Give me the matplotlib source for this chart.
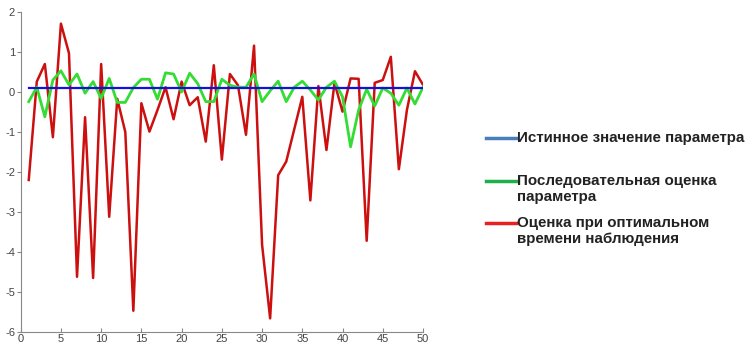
import numpy as np
import matplotlib
matplotlib.use('Agg')
import matplotlib.pyplot as plt
from matplotlib.lines import Line2D

plt.rcParams['axes.unicode_minus'] = False
plt.rcParams['font.family'] = ['Liberation Sans', 'DejaVu Sans']

# experiment number
n = np.arange(1, 51)

true_value = [0.1] * 50

seq_estimate = [-0.24, 0.12, -0.62, 0.3, 0.53, 0.18, 0.45, -0.03, 0.26, -0.16,
                0.34, -0.26, -0.26, 0.11, 0.32, 0.32, -0.18, 0.48, 0.45, 0.0,
                0.47, 0.21, -0.24, -0.24, 0.32, 0.17, 0.12, 0.12, 0.45, -0.24,
                0.03, 0.27, -0.24, 0.12, 0.27, 0.05, -0.2, 0.12, 0.27, -0.12,
                -1.37, -0.45, 0.07, -0.35, 0.1, -0.03, -0.33, 0.1, -0.3, 0.12]

opt_estimate = [-2.2, 0.26, 0.7, -1.13, 1.71, 0.97, -4.62, -0.63, -4.65, 0.7,
                -3.12, -0.17, -1.0, -5.47, -0.28, -0.99, -0.45, 0.12, -0.68, 0.26,
                -0.33, -0.13, -1.24, 0.67, -1.69, 0.45, 0.17, -1.07, 1.16, -3.82,
                -5.66, -2.08, -1.74, -0.93, -0.12, -2.71, 0.15, -1.45, 0.23, -0.49,
                0.34, 0.33, -3.72, 0.23, 0.3, 0.88, -1.93, -0.45, 0.52, 0.18]

legend_labels = [['Истинное значение параметра'],
                 ['Последовательная оценка', 'параметра'],
                 ['Оценка при оптимальном', 'времени наблюдения']]

fig = plt.figure(figsize=(7.5, 3.44), dpi=100)
ax = fig.add_axes([0.0276, 0.035, 0.5364, 0.930])

ax.plot(n, opt_estimate, color='#cc1010', lw=1.8)
ax.plot(n, seq_estimate, color='#33dd33', lw=2.0)
ax.plot(n, true_value, color='#1010e0', lw=1.6)

ax.set_xlim(0, 50)
ax.set_ylim(-6, 2)
ax.set_xticks(np.arange(0, 51, 5))
ax.set_yticks(np.arange(-6, 3, 1))
ax.spines['top'].set_visible(False)
ax.spines['right'].set_visible(False)
for s in ['left', 'bottom']:
    ax.spines[s].set_color('#888888')
ax.tick_params(length=3, width=0.8, color='#888888',
               labelsize=8, labelcolor='#444444', pad=1.5)
ax.tick_params(axis='x', direction='in')
ax.tick_params(axis='y', direction='out', pad=1)

# legend drawn at the right side of the figure (pixel positions)
leg_colors = ['#4a7ebb', '#1fb04a', '#e82020']
leg_y = [138, 181, 223]
for lines, c, y in zip(legend_labels, leg_colors, leg_y):
    yf = 1 - y / 344.0
    fig.add_artist(Line2D([486 / 750.0, 516 / 750.0], [yf, yf], color=c, lw=2.5))
    for k, txt in enumerate(lines):
        fig.text(517 / 750.0, 1 - (y + 16.5 * k) / 344.0, txt, fontsize=10.9,
                 fontweight='bold', color='#222222', va='center')

fig.savefig('out.png', dpi=100)
